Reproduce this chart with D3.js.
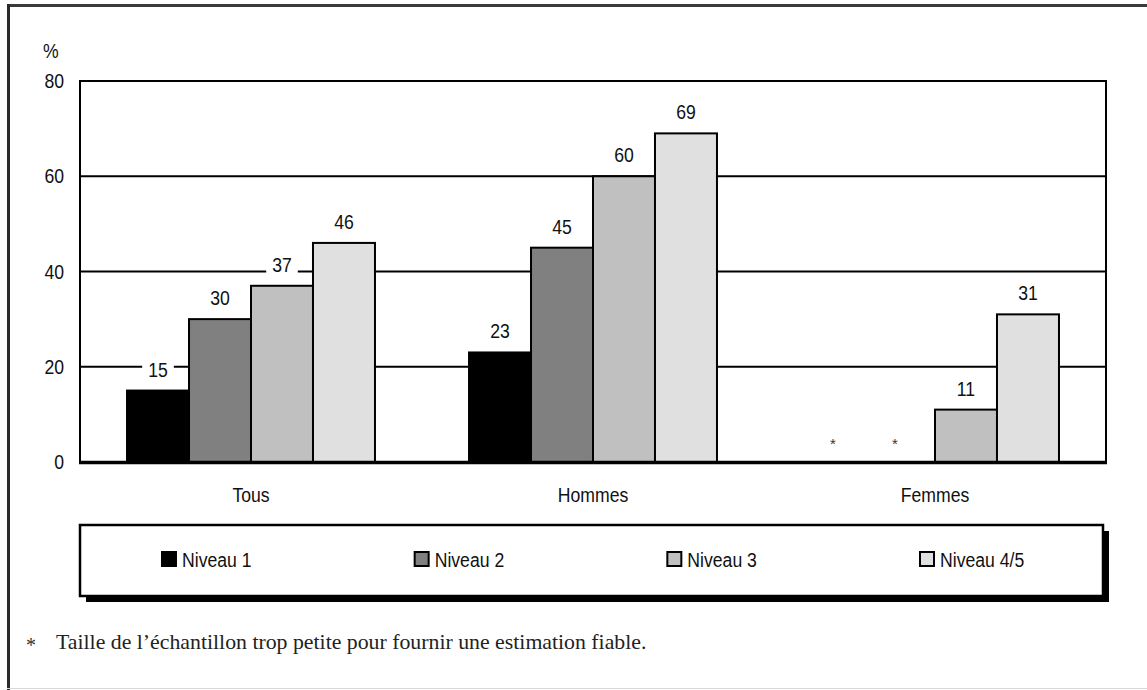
<!DOCTYPE html>
<html>
<head>
<meta charset="utf-8">
<script src="https://cdn.jsdelivr.net/npm/d3@7"></script>
<style>
  body { margin: 0; background: #fff; }
  svg { display: block; }
  .sans { font-family: "Liberation Sans", Arial, sans-serif; }
  .serif { font-family: "Liberation Serif", "Times New Roman", serif; }
</style>
</head>
<body>
<svg id="chart" width="1147" height="690"></svg>
<script>
// Categories, series and values (percent); null = sample too small
const groups = ["Tous", "Hommes", "Femmes"];
const levels = ["Niveau 1", "Niveau 2", "Niveau 3", "Niveau 4/5"];
const niveau1 = [15, 23, null];
const niveau2 = [30, 45, null];
const niveau3 = [37, 60, 11];
const niveau45 = [46, 69, 31];
const yTicks = [0, 20, 40, 60, 80];
const colors = ["#000000", "#808080", "#c0c0c0", "#e0e0e0"];
const footnote = "Taille de l\u2019\u00e9chantillon trop petite pour fournir une estimation fiable.";

const series = [niveau1, niveau2, niveau3, niveau45];
const rows = groups.map((g, i) => ({
  group: g,
  values: levels.map((lv, j) => ({ level: lv, value: series[j][i], idx: j }))
}));

const svg = d3.select("#chart");
const W = 1147, H = 690;
const plot = { left: 80, right: 1106, top: 81, bottom: 462 };
const FS = 21;        // sans label size
const NARROW = 0.84;  // horizontal squeeze for a narrow sans look

// Squeeze text horizontally while keeping its anchor point in place
function condense(sel) {
  sel.each(function() {
    const t = d3.select(this);
    const x = +(t.attr("x") || 0);
    t.attr("x", x / NARROW).attr("transform", `scale(${NARROW},1)`);
  });
}

// Outer frame
svg.append("line").attr("x1", 7).attr("x2", W).attr("y1", 5.5).attr("y2", 5.5)
  .attr("stroke", "#3a3a3a").attr("stroke-width", 3);
svg.append("line").attr("x1", 8.5).attr("x2", 8.5).attr("y1", 4).attr("y2", H)
  .attr("stroke", "#2a2a2a").attr("stroke-width", 3);
svg.append("line").attr("x1", 7).attr("x2", W).attr("y1", 688.5).attr("y2", 688.5)
  .attr("stroke", "#d8d8d8").attr("stroke-width", 1);

// Scales
const x0 = d3.scaleBand().domain(groups).range([plot.left, plot.right])
  .paddingInner(0.275).paddingOuter(0.1375);
const x1 = d3.scaleBand().domain(levels).range([0, x0.bandwidth()]);
const y = d3.scaleLinear().domain([0, 80]).range([plot.bottom, plot.top]);

// Gridlines
svg.append("g").selectAll("line").data(yTicks.filter(t => t > 0)).join("line")
  .attr("x1", plot.left).attr("x2", plot.right)
  .attr("y1", d => y(d)).attr("y2", d => y(d))
  .attr("stroke", "#000").attr("stroke-width", 2);

// Plot sides
svg.append("line").attr("x1", plot.left).attr("x2", plot.left)
  .attr("y1", plot.top - 1).attr("y2", plot.bottom)
  .attr("stroke", "#000").attr("stroke-width", 2);
svg.append("line").attr("x1", plot.right).attr("x2", plot.right)
  .attr("y1", plot.top - 1).attr("y2", plot.bottom)
  .attr("stroke", "#000").attr("stroke-width", 2);

// Bars
const gGroups = svg.append("g").selectAll("g").data(rows).join("g")
  .attr("transform", d => `translate(${x0(d.group)},0)`);

gGroups.selectAll("rect").data(d => d.values.filter(v => v.value !== null)).join("rect")
  .attr("x", d => x1(d.level))
  .attr("y", d => y(d.value))
  .attr("width", x1.bandwidth())
  .attr("height", d => y(0) - y(d.value))
  .attr("fill", d => colors[d.idx])
  .attr("stroke", "#000").attr("stroke-width", 2);

// Value labels with white backing so gridlines break around them
const labels = gGroups.selectAll("g.lab").data(d => d.values.filter(v => v.value !== null)).join("g")
  .attr("class", "lab");
labels.append("rect").attr("fill", "#fff");
labels.append("text").attr("class", "sans")
  .attr("x", d => x1(d.level) + x1.bandwidth() / 2)
  .attr("y", d => y(d.value) - 14)
  .attr("text-anchor", "middle")
  .attr("font-size", FS)
  .attr("fill", "#111")
  .text(d => d.value)
  .call(condense);
labels.each(function() {
  const g = d3.select(this);
  const b = g.select("text").node().getBBox();
  g.select("rect").attr("x", b.x * NARROW - 6).attr("y", b.y + 3)
    .attr("width", b.width * NARROW + 12).attr("height", b.height - 4);
});

// Asterisks for estimates not shown
gGroups.selectAll("text.star").data(d => d.values.filter(v => v.value === null)).join("text")
  .attr("class", "star sans")
  .attr("x", d => x1(d.level) + x1.bandwidth() / 2 - 9)
  .attr("y", y(0) - 13)
  .attr("text-anchor", "middle")
  .attr("font-size", 15)
  .attr("fill", "#333")
  .text("*");

// Baseline
svg.append("line").attr("x1", plot.left - 1).attr("x2", plot.right + 1)
  .attr("y1", plot.bottom + 0.5).attr("y2", plot.bottom + 0.5)
  .attr("stroke", "#000").attr("stroke-width", 3.5);

// Y axis labels
const yAxis = svg.append("g").attr("transform", `translate(${plot.left},0)`)
  .call(d3.axisLeft(y).tickValues(yTicks).tickSize(0).tickPadding(16));
yAxis.select(".domain").remove();
yAxis.attr("font-family", null).attr("font-size", null);
yAxis.selectAll("text").attr("class", "sans").attr("font-size", FS).attr("fill", "#111")
  .call(condense);

svg.append("text").attr("class", "sans").attr("x", 43).attr("y", 58)
  .attr("font-size", FS).attr("fill", "#111").text("%").call(condense);

// X axis labels
const xAxis = svg.append("g").attr("transform", `translate(0,${plot.bottom})`)
  .call(d3.axisBottom(x0).tickSize(0).tickPadding(25));
xAxis.select(".domain").remove();
xAxis.attr("font-family", null).attr("font-size", null);
xAxis.selectAll("text").attr("class", "sans").attr("font-size", FS).attr("fill", "#111")
  .call(condense);

// Legend
const lg = { x: 80, y: 525, w: 1023, h: 71 };
svg.append("rect").attr("x", lg.x + 6).attr("y", lg.y + 6).attr("width", lg.w).attr("height", lg.h)
  .attr("fill", "#000");
svg.append("rect").attr("x", lg.x).attr("y", lg.y).attr("width", lg.w).attr("height", lg.h)
  .attr("fill", "#fff").attr("stroke", "#000").attr("stroke-width", 2.5);

const legendX = d3.scalePoint().domain(levels).range([161, 919]);
const items = svg.append("g").selectAll("g").data(levels).join("g")
  .attr("transform", d => `translate(${legendX(d)},551)`);
items.append("rect").attr("x", 1).attr("y", 1).attr("width", 14).attr("height", 14)
  .attr("fill", (d, i) => colors[i]).attr("stroke", "#000").attr("stroke-width", 2);
items.append("text").attr("class", "sans").attr("x", 21).attr("y", 16)
  .attr("font-size", FS).attr("fill", "#111").text(d => d).call(condense);

// Footnote
svg.append("text").attr("class", "serif").attr("x", 26).attr("y", 652)
  .attr("font-size", 20).attr("fill", "#333").text("*");
svg.append("text").attr("class", "serif").attr("x", 56).attr("y", 649)
  .attr("font-size", 21.8).attr("fill", "#222").text(footnote);
</script>
</body>
</html>
